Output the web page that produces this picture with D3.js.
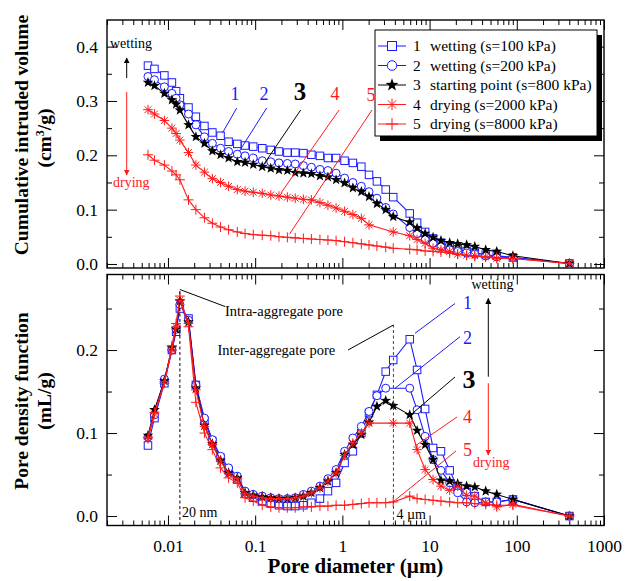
<!DOCTYPE html>
<html><head><meta charset="utf-8">
<script src="https://cdn.jsdelivr.net/npm/d3@7"></script>
<style>
body{margin:0;background:#fff}
svg text{font-family:"Liberation Serif","Times New Roman",serif}
</style>
</head><body>
<svg id="chart" width="627" height="581"></svg>
<script>
// ---------------- DATA ----------------
const diameters = [0.0059,0.0070,0.0091,0.0111,0.0124,0.0137,0.0172,0.0209,0.0262,0.0323,
  0.0401,0.0496,0.0624,0.0766,0.0951,0.1205,0.151,0.1875,0.234,0.288,
  0.357,0.441,0.553,0.683,0.847,1.06,1.32,1.65,2.02,2.49,
  3.14,3.83,5.92,7.19,8.89,10.96,13.5,17.0,21.0,26.6,
  33.0,44.0,58.9,90.2,401];

// Cumulative intruded volume (cm3/g)
const cumS1 = [0.365,0.359,0.347,0.334,0.318,0.305,0.288,0.271,0.254,0.242,
  0.236,0.225,0.221,0.218,0.216,0.213,0.210,0.207,0.205,0.205,
  0.204,0.201,0.199,0.195,0.195,0.190,0.186,0.179,0.164,0.152,
  0.137,0.123,0.093,0.076,0.059,0.047,0.039,0.032,0.027,0.024,
  0.021,0.017,0.015,0.012,0.001];
const cumS2 = [0.345,0.339,0.326,0.314,0.305,0.293,0.276,0.256,0.234,0.222,
  0.213,0.207,0.202,0.199,0.195,0.190,0.188,0.186,0.185,0.184,
  0.181,0.178,0.174,0.172,0.167,0.158,0.150,0.143,0.133,0.121,
  0.104,0.092,0.067,0.056,0.045,0.038,0.032,0.026,0.023,0.020,
  0.018,0.015,0.013,0.012,0.001];
const cumS3 = [0.334,0.328,0.314,0.302,0.294,0.283,0.256,0.234,0.222,0.208,
  0.201,0.195,0.188,0.187,0.183,0.179,0.176,0.173,0.172,0.168,
  0.167,0.166,0.162,0.160,0.155,0.149,0.140,0.133,0.124,0.111,
  0.100,0.087,0.077,0.066,0.056,0.049,0.043,0.039,0.037,0.035,
  0.032,0.026,0.023,0.015,0.001];
const cumS4 = [0.284,0.276,0.264,0.250,0.240,0.228,0.205,0.182,0.169,0.157,
  0.150,0.143,0.137,0.134,0.132,0.130,0.127,0.125,0.123,0.121,
  0.119,0.118,0.113,0.108,0.103,0.097,0.091,0.084,0.072,null,
  null,0.059,0.052,0.045,0.038,0.029,0.026,0.023,0.018,0.016,
  0.015,0.013,0.010,0.010,0.001];
const cumS5 = [0.201,0.191,0.182,0.171,0.164,0.155,0.118,0.100,0.085,0.075,
  0.068,0.063,0.059,0.056,0.054,0.053,0.052,0.050,0.049,0.048,
  0.047,0.046,0.045,0.044,0.043,0.041,0.039,0.037,0.035,0.033,
  0.031,0.029,0.027,0.026,0.024,0.023,0.022,0.020,0.018,0.016,
  0.014,0.013,0.012,0.010,0.001];

// Pore density function (mL/g)
const pdfS1 = [0.085,0.118,0.160,0.200,0.222,0.250,0.238,0.158,0.115,0.090,
  0.070,0.055,0.044,0.027,0.022,0.018,0.015,0.013,0.012,0.012,
  0.013,0.016,0.021,0.030,0.040,0.064,0.078,0.100,0.124,0.146,
  0.174,0.188,0.213,0.176,0.129,0.082,0.078,0.055,0.034,0.029,
  0.024,0.017,0.017,0.020,0.000];
const pdfS2 = [0.095,0.122,0.165,0.200,0.225,0.255,0.236,0.158,0.118,0.092,
  0.072,0.058,0.048,0.030,0.026,0.024,0.022,0.021,0.021,0.022,
  0.026,0.030,0.036,0.045,0.056,0.078,0.094,0.108,0.126,0.145,
  0.154,null,0.154,0.128,0.096,0.068,0.055,0.040,0.028,0.017,
  0.016,0.017,0.017,0.020,0.000];
const pdfS3 = [0.097,0.128,0.163,0.203,0.225,0.259,0.234,0.154,0.109,0.087,
  0.067,0.052,0.046,0.028,0.025,0.023,0.022,0.021,0.021,0.022,
  0.024,0.028,0.034,0.042,0.052,0.074,0.086,0.098,0.113,0.132,
  0.139,0.133,0.122,0.103,0.086,0.068,0.043,0.042,0.039,0.036,
  0.035,0.030,0.026,0.020,0.000];
const pdfS4 = [0.093,0.123,0.162,0.200,0.228,0.260,0.232,0.152,0.108,0.086,
  0.066,0.051,0.045,0.027,0.024,0.022,0.021,0.021,0.021,0.022,
  0.024,0.028,0.034,0.042,0.052,0.073,0.088,0.100,0.112,null,
  null,0.112,0.112,0.080,0.056,0.044,0.036,0.031,0.036,0.025,
  0.024,0.016,0.011,0.014,0.000];
const pdfS5 = [0.095,0.125,0.160,0.205,0.232,0.265,0.228,0.137,0.100,0.080,
  0.058,0.046,0.040,0.022,0.018,0.013,0.011,0.010,0.010,0.010,
  0.011,0.011,0.012,0.012,0.013,0.013,0.014,0.015,0.016,0.016,
  0.016,0.017,0.024,0.021,0.020,0.019,0.018,0.017,0.016,0.016,
  0.015,0.014,0.013,0.013,0.000];

const seriesNumbers = ["1","2","3","4","5"];
const seriesNames = ["wetting (s=100 kPa)","wetting (s=200 kPa)","starting point (s=800 kPa)","drying (s=2000 kPa)","drying (s=8000 kPa)"];
const seriesColors = ["#1a1aff","#1a1aff","#000000","#ff1a1a","#ff1a1a"];
const seriesShapes = ["square","circle","star","asterisk","plus"];
const cumSeries = [cumS1,cumS2,cumS3,cumS4,cumS5];
const pdfSeries = [pdfS1,pdfS2,pdfS3,pdfS4,pdfS5];

const xTickValues = [0.01,0.1,1,10,100,1000];
const xTickLabels = ["0.01","0.1","1","10","100","1000"];
const topYTicks = [0,0.1,0.2,0.3,0.4];
const topYLabels = ["0.0","0.1","0.2","0.3","0.4"];
const botYTicks = [0,0.1,0.2];
const botYLabels = ["0.0","0.1","0.2"];
const guideDiameters = [0.0137, 3.85];

// ---------------- LAYOUT ----------------
const svg = d3.select("#chart");
const L = 107, R = 604;
const topP = {y0: 20, y1: 268};
const botP = {y0: 274.5, y1: 525.5};

const x = d3.scaleLog().domain([0.002, 1000]).range([L, R]);
const yTop = d3.scaleLinear().domain([-0.0074, 0.449]).range([topP.y1, topP.y0]);
const yBot = d3.scaleLinear().domain([-0.0114, 0.291]).range([botP.y1, botP.y0]);

const defs = svg.append("defs");
function arrowMarker(id, color){
  defs.append("marker").attr("id",id).attr("viewBox","0 0 10 10").attr("refX",9).attr("refY",5)
    .attr("markerWidth",6).attr("markerHeight",8).attr("markerUnits","userSpaceOnUse").attr("orient","auto")
    .append("path").attr("d","M0,0 L10,5 L0,10 z").attr("fill",color);
}
arrowMarker("arrK","#000");
arrowMarker("arrR","#ff1a1a");

const xMinor = [];
for (let e = -3; e <= 2; e++) for (let m = 2; m <= 9; m++) {
  const v = m * Math.pow(10, e);
  if (v >= 0.002 && v <= 1000) xMinor.push(v);
}

function styleAxis(g){
  g.select(".domain").remove();
  g.selectAll("line").attr("stroke","#000").attr("stroke-width",1);
  g.attr("font-family",'"Liberation Serif","Times New Roman",serif');
}

function drawPanel(p, y, yTicks, yLabels, yMinor, showXLabels){
  svg.append("g").attr("transform",`translate(0,${p.y1})`)
    .call(d3.axisBottom(x).tickValues(xMinor).tickSize(-5).tickFormat("")).call(styleAxis);
  const xb = svg.append("g").attr("transform",`translate(0,${p.y1})`)
    .call(d3.axisBottom(x).tickValues(xTickValues).tickSize(-10).tickPadding(14)
      .tickFormat((d,i)=> showXLabels ? xTickLabels[i] : "")).call(styleAxis);
  xb.attr("font-size",17.5);
  xb.selectAll("text").attr("fill","#000");
  svg.append("g").attr("transform",`translate(0,${p.y0})`)
    .call(d3.axisTop(x).tickValues(xMinor).tickSize(-5).tickFormat("")).call(styleAxis);
  svg.append("g").attr("transform",`translate(0,${p.y0})`)
    .call(d3.axisTop(x).tickValues(xTickValues).tickSize(-10).tickFormat("")).call(styleAxis);
  svg.append("g").attr("transform",`translate(${L},0)`)
    .call(d3.axisLeft(y).tickValues(yMinor).tickSize(-5).tickFormat("")).call(styleAxis);
  const yl = svg.append("g").attr("transform",`translate(${L},0)`)
    .call(d3.axisLeft(y).tickValues(yTicks).tickSize(-10).tickPadding(9).tickFormat((d,i)=>yLabels[i])).call(styleAxis);
  yl.attr("font-size",17.5);
  yl.selectAll("text").attr("fill","#000");
  svg.append("g").attr("transform",`translate(${R},0)`)
    .call(d3.axisRight(y).tickValues(yMinor).tickSize(-5).tickFormat("")).call(styleAxis);
  svg.append("g").attr("transform",`translate(${R},0)`)
    .call(d3.axisRight(y).tickValues(yTicks).tickSize(-10).tickFormat("")).call(styleAxis);
  svg.append("rect").attr("x",L).attr("y",p.y0).attr("width",R-L).attr("height",p.y1-p.y0)
    .attr("fill","none").attr("stroke","#000").attr("stroke-width",1.4);
}

drawPanel(topP, yTop, topYTicks, topYLabels, [0.05,0.15,0.25,0.35], false);
drawPanel(botP, yBot, botYTicks, botYLabels, [0.05,0.15,0.25], true);

// ---------------- MARKERS ----------------
function starPath(cx, cy, R0, r0){
  let d = "";
  for (let k = 0; k < 10; k++){
    const a = -Math.PI/2 + k*Math.PI/5;
    const rr = k%2===0 ? R0 : r0;
    d += (k===0?"M":"L") + (cx+rr*Math.cos(a)).toFixed(2) + "," + (cy+rr*Math.sin(a)).toFixed(2);
  }
  return d + "Z";
}
function drawMarker(g, shape, cx, cy, sc, color){
  if (shape === "square"){
    const s = 7.5*sc;
    g.append("rect").attr("x",cx-s/2).attr("y",cy-s/2).attr("width",s).attr("height",s)
      .attr("fill","#fff").attr("stroke",color).attr("stroke-width",1);
  } else if (shape === "circle"){
    g.append("circle").attr("cx",cx).attr("cy",cy).attr("r",4*sc)
      .attr("fill","#fff").attr("stroke",color).attr("stroke-width",1);
  } else if (shape === "star"){
    g.append("path").attr("d",starPath(cx,cy,5.6*sc,2.3*sc)).attr("fill",color);
  } else if (shape === "asterisk"){
    const r = 4.8*sc;
    for (let k = 0; k < 4; k++){
      const a = k*Math.PI/4;
      g.append("line").attr("x1",cx-r*Math.cos(a)).attr("y1",cy-r*Math.sin(a))
        .attr("x2",cx+r*Math.cos(a)).attr("y2",cy+r*Math.sin(a))
        .attr("stroke",color).attr("stroke-width",1);
    }
  } else if (shape === "plus"){
    const r = 5*sc;
    g.append("line").attr("x1",cx-r).attr("y1",cy).attr("x2",cx+r).attr("y2",cy).attr("stroke",color).attr("stroke-width",1);
    g.append("line").attr("x1",cx).attr("y1",cy-r).attr("x2",cx).attr("y2",cy+r).attr("stroke",color).attr("stroke-width",1);
  }
}

function drawSeries(values, y, i){
  const pts = diameters.map((d,k)=>({d, v: values[k]})).filter(p => p.v !== null);
  const g = svg.append("g");
  g.append("path").datum(pts)
    .attr("d", d3.line().x(p=>x(p.d)).y(p=>y(p.v)))
    .attr("fill","none").attr("stroke",seriesColors[i]).attr("stroke-width",1.1);
  pts.forEach(p => drawMarker(g, seriesShapes[i], x(p.d), y(p.v), 1, seriesColors[i]));
}
cumSeries.forEach((s,i)=>drawSeries(s, yTop, i));
pdfSeries.forEach((s,i)=>drawSeries(s, yBot, i));

// ---------------- LEGEND ----------------
const lg = svg.append("g");
lg.append("rect").attr("x",380).attr("y",35).attr("width",222).attr("height",106).attr("fill","#000");
lg.append("rect").attr("x",375).attr("y",30).attr("width",222).attr("height",106)
  .attr("fill","#fff").attr("stroke","#000").attr("stroke-width",1);
const rowY = [46, 65.5, 85, 104.5, 124];
seriesNames.forEach((name,i)=>{
  const yy = rowY[i];
  lg.append("line").attr("x1",378).attr("x2",406).attr("y1",yy).attr("y2",yy)
    .attr("stroke",seriesColors[i]).attr("stroke-width",1);
  drawMarker(lg, seriesShapes[i], 392, yy, 1.2, seriesColors[i]);
  lg.append("text").attr("x",413).attr("y",yy+5).attr("font-size",15.5).text(seriesNumbers[i]);
  lg.append("text").attr("x",430).attr("y",yy+5).attr("font-size",15.5).text(name);
});

// ---------------- AXIS TITLES ----------------
svg.append("text").attr("x",(L+R)/2).attr("y",573).attr("text-anchor","middle")
  .attr("font-size",21).attr("font-weight","bold").text("Pore diameter (µm)");
svg.append("text").attr("transform","translate(28,135) rotate(-90)").attr("text-anchor","middle")
  .attr("font-size",19.5).attr("font-weight","bold").text("Cumulative intruded volume");
const t2 = svg.append("text").attr("transform","translate(51,138) rotate(-90)").attr("text-anchor","middle")
  .attr("font-size",19.5).attr("font-weight","bold");
t2.append("tspan").text("(cm");
t2.append("tspan").attr("font-size",12).attr("dy",-7).text("3");
t2.append("tspan").attr("dy",7).text("/g)");
svg.append("text").attr("transform","translate(28,401) rotate(-90)").attr("text-anchor","middle")
  .attr("font-size",19.5).attr("font-weight","bold").text("Pore density function");
svg.append("text").attr("transform","translate(51,401) rotate(-90)").attr("text-anchor","middle")
  .attr("font-size",19.5).attr("font-weight","bold").text("(mL/g)");

// ---------------- ANNOTATIONS ----------------
function txt(xx, yy, s, size, color, opts={}){
  const t = svg.append("text").attr("x",xx).attr("y",yy).attr("font-size",size).attr("fill",color).text(s);
  if (opts.anchor) t.attr("text-anchor",opts.anchor);
  if (opts.bold) t.attr("font-weight","bold");
  return t;
}
function seg(x1,y1,x2,y2,color,extra){
  const l = svg.append("line").attr("x1",x1).attr("y1",y1).attr("x2",x2).attr("y2",y2)
    .attr("stroke",color).attr("stroke-width",1);
  if (extra) extra(l);
  return l;
}
txt(110,48,"wetting",14,"#000");
seg(126.7,78,126.7,58,"#000",l=>l.attr("marker-end","url(#arrK)"));
seg(126.7,92,126.7,175,"#ff1a1a",l=>l.attr("marker-end","url(#arrR)"));
txt(113,187,"drying",14,"#ff1a1a");

const topLabelPos = [[235,100,236.7,108],[264,100,266.7,108],[300,100,300.7,110],[335,100,339,110],[371,101,372,110]];
const topLabelTarget = [[0,10],[1,12],[2,15],[3,17],[4,18]];
topLabelPos.forEach((p,i)=>{
  const [si, k] = topLabelTarget[i];
  txt(p[0], p[1], seriesNumbers[i], i===2?25:18, seriesColors[i], {anchor:"middle", bold:i===2});
  seg(p[2], p[3], x(diameters[k])+2, yTop(cumSeries[si][k])-3, seriesColors[i]);
});

seg(x(guideDiameters[0]), botP.y1, x(guideDiameters[0]), 289.5, "#000", l=>l.attr("stroke-dasharray","3,2.5"));
seg(x(guideDiameters[1]), botP.y1, x(guideDiameters[1]), 325, "#444", l=>l.attr("stroke-dasharray","3,2.5"));
txt(182,517,"20 nm",14,"#000");
txt(396.5,519,"4 µm",14,"#000");
seg(x(guideDiameters[0]), 289.5, 225, 306.5, "#000");
txt(225,316,"Intra-aggregate pore",14.5,"#000");
txt(217.5,355,"Inter-aggregate pore",14.5,"#000");
seg(348,350,x(guideDiameters[1]),325,"#000");

txt(471.5,289,"wetting",14,"#000");
seg(488.3,376.7,488.3,298.5,"#000",l=>l.attr("marker-end","url(#arrK)"));
seg(488.3,383.3,488.3,455,"#ff1a1a",l=>l.attr("marker-end","url(#arrR)"));
txt(473,467,"drying",14,"#ff1a1a");

const botLabels = [[467.5,309,455,303.5,415,333.3],[467.5,344,460,336.7,395,388.3],[469,388,455,377,411.7,414],
                   [467.5,423,457,417,415,446],[467.5,456,456,451,393.3,501.7]];
botLabels.forEach((p,i)=>{
  txt(p[0], p[1], seriesNumbers[i], i===2?26:18, seriesColors[i], {anchor:"middle", bold:i===2});
  seg(p[2],p[3],p[4],p[5],seriesColors[i]);
});
</script>
</body></html>
